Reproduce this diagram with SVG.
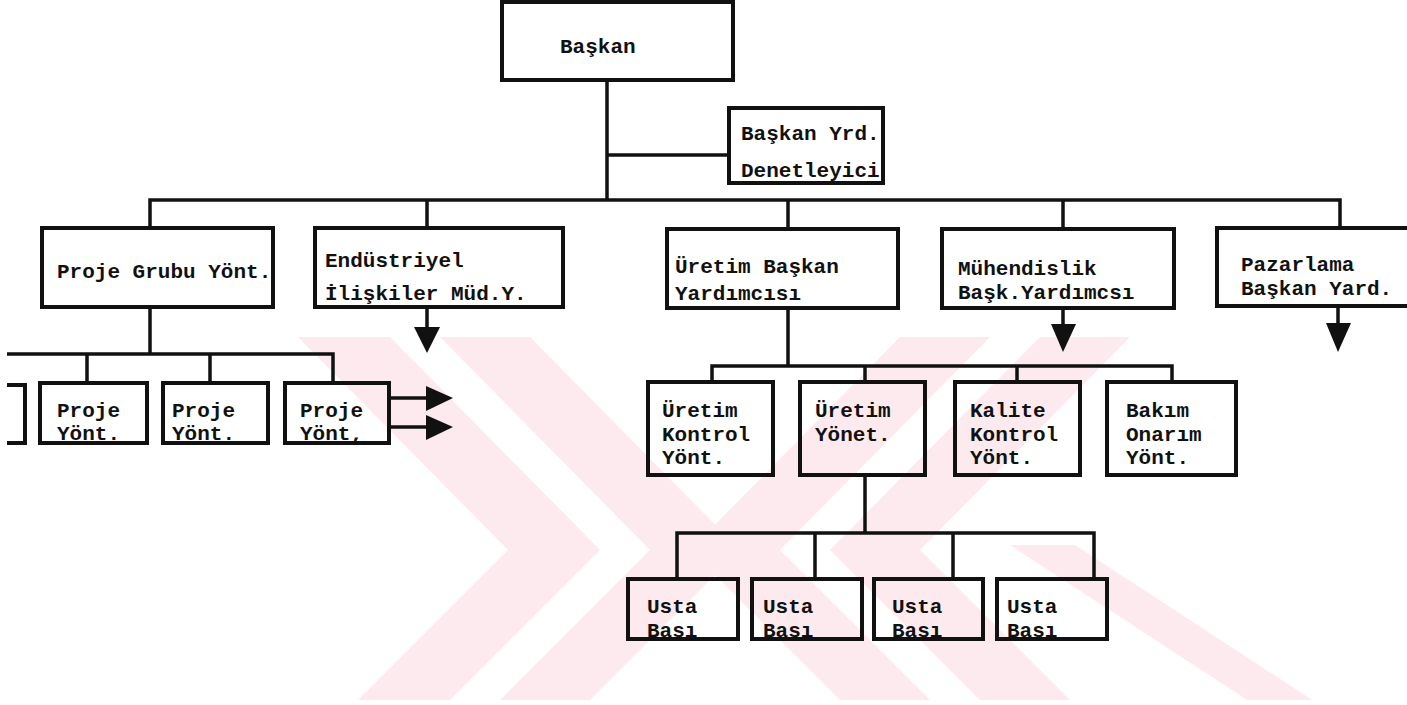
<svg xmlns="http://www.w3.org/2000/svg" width="1407" height="705" viewBox="0 0 1407 705">
  <style>
    .box { fill: none; stroke: #111; stroke-width: 4; }
    .wire { fill: none; stroke: #111; stroke-width: 3.5; }
    .head { fill: #111; stroke: none; }
    .lbl { font-family: "Liberation Mono", "DejaVu Sans Mono", monospace; font-size: 21px; font-weight: bold; fill: #111; }
    .mark { fill: #fdeaee; }
  </style>
  <defs>
    <clipPath id="markClip"><rect x="290" y="337" width="1030" height="363"/></clipPath>
  </defs>
  <rect width="1407" height="705" fill="#fff"/>

  <!-- faint background emblem -->
  <g id="emblem" clip-path="url(#markClip)">
    <polygon class="mark" points="298,337 390,337 600,550 390,760 298,760 508,550"/>
    <polygon class="mark" points="440,337 530,337 740,550 530,760 440,760 650,550"/>
    <polygon class="mark" points="1130,337 1040,337 830,550 1040,760 1130,760 920,550"/>
    <polygon class="mark" points="990,337 900,337 690,550 900,760 990,760 780,550"/>
    <polygon class="mark" points="1010,545 1075,545 1320,705 1255,705"/>
  </g>

  <!-- connectors -->
  <g id="connectors">
    <path class="wire" d="M607 80 V200"/>
    <path class="wire" d="M607 155 H729"/>
    <path class="wire" d="M150 228 V200 H1340 V228"/>
    <path class="wire" d="M427 200 V228"/>
    <path class="wire" d="M788 200 V229"/>
    <path class="wire" d="M1063 200 V229"/>
    <path class="wire" d="M427 307 V329"/>
    <polygon class="head" points="414,327 440,327 427,353"/>
    <path class="wire" d="M1063 308 V326"/>
    <polygon class="head" points="1051,324 1076,324 1063,352"/>
    <path class="wire" d="M1338 306 V325"/>
    <polygon class="head" points="1326,323 1351,323 1338,352"/>
    <path class="wire" d="M150 307 V354"/>
    <path class="wire" d="M7 354 H333 V383"/>
    <path class="wire" d="M87 354 V383"/>
    <path class="wire" d="M210 354 V383"/>
    <path class="wire" d="M389 398 H428"/>
    <polygon class="head" points="426,386 426,411 453,398"/>
    <path class="wire" d="M389 427 H428"/>
    <polygon class="head" points="426,415 426,440 453,427"/>
    <path class="wire" d="M788 308 V366"/>
    <path class="wire" d="M712 382 V366 H1172 V382"/>
    <path class="wire" d="M865 366 V382"/>
    <path class="wire" d="M1017 366 V382"/>
    <path class="wire" d="M865 475 V533"/>
    <path class="wire" d="M677 579 V533 H1094 V579"/>
    <path class="wire" d="M815 533 V579"/>
    <path class="wire" d="M953 533 V579"/>
  </g>

  <g id="baskan">
    <rect class="box" x="502" y="2" width="231" height="78"/>
    <text class="lbl" x="560" y="53">Başkan</text>
  </g>
  <g id="baskan-yrd">
    <rect class="box" x="729" y="108" width="154" height="75"/>
    <text class="lbl" x="741" y="140">Başkan Yrd.</text>
    <text class="lbl" x="741" y="177">Denetleyici</text>
  </g>
  <g id="proje-grubu">
    <rect class="box" x="42" y="228" width="231" height="79"/>
    <text class="lbl" x="57" y="278">Proje Grubu Yönt.</text>
  </g>
  <g id="endustriyel">
    <rect class="box" x="315" y="228" width="248" height="79"/>
    <text class="lbl" x="325" y="267">Endüstriyel</text>
    <text class="lbl" x="325" y="300">İlişkiler Müd.Y.</text>
  </g>
  <g id="uretim-baskan">
    <rect class="box" x="667" y="229" width="231" height="79"/>
    <text class="lbl" x="675" y="273">Üretim Başkan</text>
    <text class="lbl" x="675" y="300">Yardımcısı</text>
  </g>
  <g id="muhendislik">
    <rect class="box" x="942" y="229" width="232" height="79"/>
    <text class="lbl" x="958" y="275">Mühendislik</text>
    <text class="lbl" x="958" y="299">Başk.Yardımcsı</text>
  </g>
  <g id="pazarlama">
    <rect class="box" x="1217" y="228" width="220" height="78"/>
    <text class="lbl" x="1241" y="271">Pazarlama</text>
    <text class="lbl" x="1241" y="295">Başkan Yard.</text>
  </g>

  <g id="proje-0">
    <path class="box" d="M7 385 H25 V443 H7"/>
  </g>
  <g id="proje-1">
    <rect class="box" x="40" y="383" width="107" height="60"/>
    <text class="lbl" x="57" y="417">Proje</text>
    <text class="lbl" x="57" y="440">Yönt.</text>
  </g>
  <g id="proje-2">
    <rect class="box" x="163" y="383" width="105" height="60"/>
    <text class="lbl" x="172" y="417">Proje</text>
    <text class="lbl" x="172" y="440">Yönt.</text>
  </g>
  <g id="proje-3">
    <rect class="box" x="285" y="383" width="104" height="60"/>
    <text class="lbl" x="300" y="417">Proje</text>
    <text class="lbl" x="300" y="440">Yönt,</text>
  </g>

  <g id="uretim-kontrol">
    <rect class="box" x="648" y="382" width="125" height="93"/>
    <text class="lbl" x="662" y="417">Üretim</text>
    <text class="lbl" x="662" y="441">Kontrol</text>
    <text class="lbl" x="662" y="464">Yönt.</text>
  </g>
  <g id="uretim-yonet">
    <rect class="box" x="800" y="382" width="125" height="93"/>
    <text class="lbl" x="815" y="417">Üretim</text>
    <text class="lbl" x="815" y="441">Yönet.</text>
  </g>
  <g id="kalite-kontrol">
    <rect class="box" x="955" y="382" width="125" height="93"/>
    <text class="lbl" x="970" y="417">Kalite</text>
    <text class="lbl" x="970" y="441">Kontrol</text>
    <text class="lbl" x="970" y="464">Yönt.</text>
  </g>
  <g id="bakim-onarim">
    <rect class="box" x="1107" y="382" width="129" height="93"/>
    <text class="lbl" x="1126" y="417">Bakım</text>
    <text class="lbl" x="1126" y="441">Onarım</text>
    <text class="lbl" x="1126" y="464">Yönt.</text>
  </g>

  <g id="usta-1">
    <rect class="box" x="628" y="579" width="110" height="60"/>
    <text class="lbl" x="647" y="613">Usta</text>
    <text class="lbl" x="647" y="637">Bası</text>
  </g>
  <g id="usta-2">
    <rect class="box" x="752" y="579" width="110" height="60"/>
    <text class="lbl" x="763" y="613">Usta</text>
    <text class="lbl" x="763" y="637">Bası</text>
  </g>
  <g id="usta-3">
    <rect class="box" x="874" y="579" width="109" height="60"/>
    <text class="lbl" x="892" y="613">Usta</text>
    <text class="lbl" x="892" y="637">Bası</text>
  </g>
  <g id="usta-4">
    <rect class="box" x="997" y="579" width="110" height="60"/>
    <text class="lbl" x="1007" y="613">Usta</text>
    <text class="lbl" x="1007" y="637">Bası</text>
  </g>
</svg>
